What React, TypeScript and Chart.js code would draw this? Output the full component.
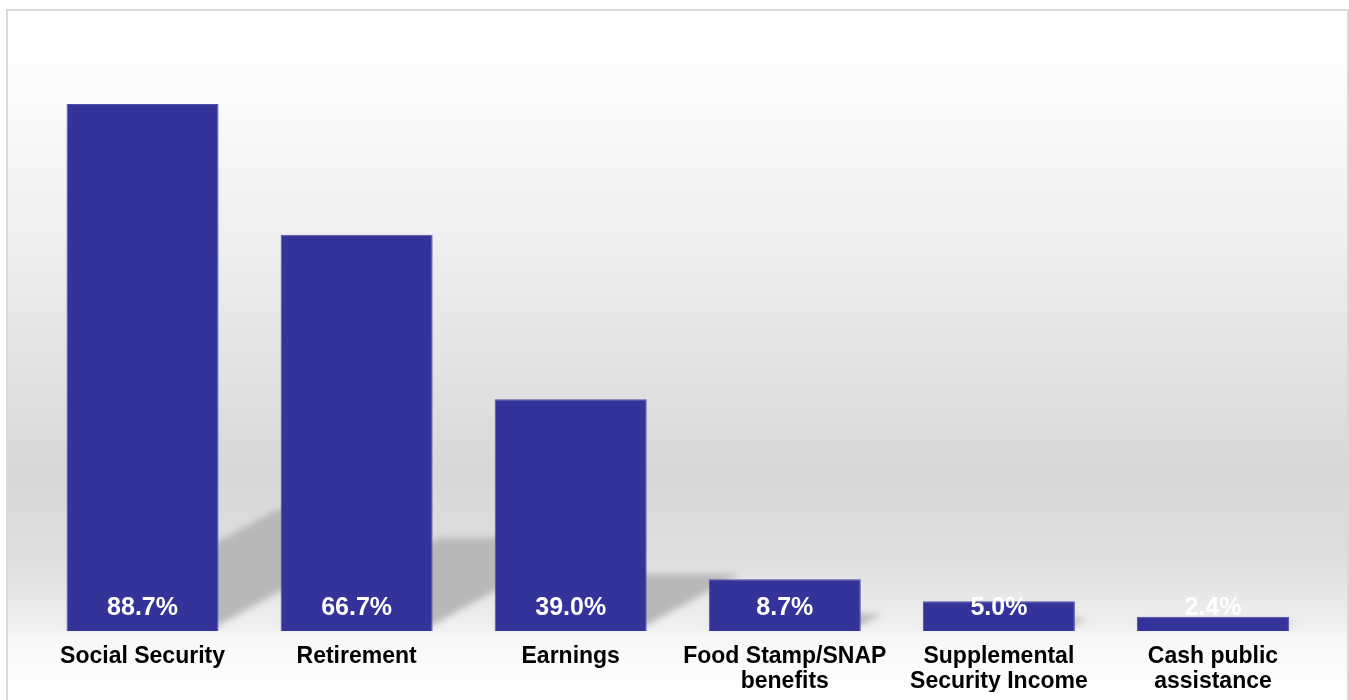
import React, { useEffect, useRef } from "react";
import { Chart, registerables } from "chart.js";

Chart.register(...registerables);

const categories: (string | string[])[] = [
  "Social Security",
  "Retirement",
  "Earnings",
  ["Food Stamp/SNAP", "benefits"],
  ["Supplemental", "Security Income"],
  ["Cash public", "assistance"],
];
const values: number[] = [88.7, 66.7, 39.0, 8.7, 5.0, 2.4];
const valueLabels: string[] = ["88.7%", "66.7%", "39.0%", "8.7%", "5.0%", "2.4%"];

const FONT = "'Liberation Sans', Arial, Helvetica, sans-serif";

const backgroundPlugin = {
  id: "boxBackground",
  beforeDraw(chart: any) {
    const ctx = chart.ctx as CanvasRenderingContext2D;
    const W = chart.width;
    const H = chart.height;
    ctx.save();
    ctx.fillStyle = "#ffffff";
    ctx.fillRect(0, 0, W, H);
    const x0 = 7, y0 = 10, x1 = 1348, y1 = H + 2;
    const g = ctx.createLinearGradient(0, y0, 0, 700);
    g.addColorStop(0, "#ffffff");
    g.addColorStop(0.13, "#fbfbfb");
    g.addColorStop(0.35, "#eeeeee");
    g.addColorStop(0.67, "#d8d8d8");
    g.addColorStop(0.8, "#dfdfdf");
    g.addColorStop(0.9, "#f1f1f1");
    g.addColorStop(0.905, "#f7f7f7");
    g.addColorStop(1, "#ffffff");
    ctx.fillStyle = g;
    ctx.fillRect(x0, y0, x1 - x0, y1 - y0);
    ctx.strokeStyle = "#d9d9d9";
    ctx.lineWidth = 2;
    ctx.strokeRect(x0, y0, x1 - x0, y1 - y0);
    ctx.restore();
  },
};

const shadowPlugin = {
  id: "barShadows",
  beforeDatasetsDraw(chart: any) {
    const ctx = chart.ctx as CanvasRenderingContext2D;
    const meta = chart.getDatasetMeta(0);
    ctx.save();
    ctx.filter = "blur(3px)";
    ctx.fillStyle = "rgb(184,184,184)";
    const slope = 0.55;
    meta.data.forEach((bar: any) => {
      const p = bar.getProps(["x", "y", "base", "width"], true);
      const L = p.x - p.width / 2;
      const R = p.x + p.width / 2;
      const B = p.base - 6;
      const h = (p.base - p.y) * 0.22;
      const dx = h / slope;
      ctx.beginPath();
      ctx.moveTo(L, B);
      ctx.lineTo(R, B);
      ctx.lineTo(R + dx, B - h);
      ctx.lineTo(L + dx, B - h);
      ctx.closePath();
      ctx.fill();
    });
    ctx.restore();
  },
};

const valueLabelPlugin = {
  id: "valueLabels",
  afterDatasetsDraw(chart: any) {
    const ctx = chart.ctx as CanvasRenderingContext2D;
    const meta = chart.getDatasetMeta(0);
    const yc = chart.chartArea.bottom - 23;
    ctx.save();
    ctx.fillStyle = "#ffffff";
    ctx.font = `bold 25px ${FONT}`;
    ctx.textAlign = "center";
    ctx.textBaseline = "middle";
    meta.data.forEach((bar: any, i: number) => {
      ctx.fillText(valueLabels[i], bar.x, yc);
    });
    ctx.restore();
  },
};

export default function App() {
  const ref = useRef<HTMLCanvasElement | null>(null);

  useEffect(() => {
    if (!ref.current) return;
    const chart = new Chart(ref.current, {
      type: "bar",
      data: {
        labels: categories,
        datasets: [
          {
            data: values,
            backgroundColor: "#333399",
            borderColor: "#4f4fa8",
            borderWidth: 1,
            categoryPercentage: 1,
            barPercentage: 0.71,
          },
        ],
      },
      options: {
        responsive: false,
        animation: false,
        devicePixelRatio: 1,
        layout: { padding: { top: 37, left: 35.5, right: 29, bottom: 8 } },
        plugins: {
          legend: { display: false },
          tooltip: { enabled: false },
          title: { display: false },
        },
        scales: {
          x: {
            grid: { display: false, drawTicks: false },
            border: { display: false },
            afterFit: (scale: any) => {
              scale.height = 61;
            },
            ticks: {
              color: "#000000",
              font: { family: FONT, size: 23, weight: "bold", lineHeight: 25 / 23 },
              padding: 13,
              maxRotation: 0,
              minRotation: 0,
              autoSkip: false,
            },
          },
          y: {
            display: false,
            min: 0,
            max: 100,
          },
        },
      },
      plugins: [backgroundPlugin, shadowPlugin, valueLabelPlugin],
    });
    return () => chart.destroy();
  }, []);

  return (
    <div style={{ position: "absolute", left: 0, top: 0, width: 1349, height: 700 }}>
      <canvas ref={ref} width={1349} height={700} style={{ display: "block" }} />
    </div>
  );
}
